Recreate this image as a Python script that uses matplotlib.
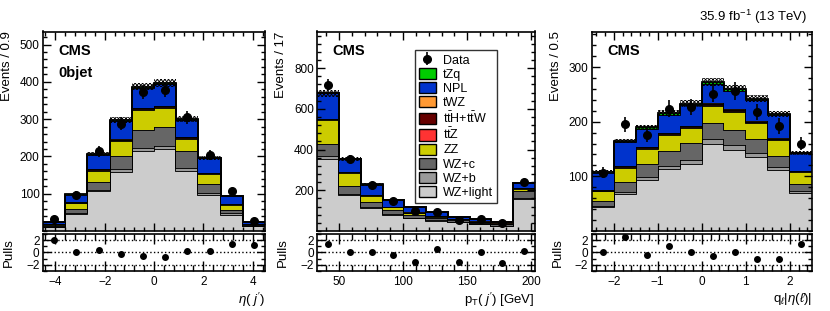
import matplotlib
matplotlib.use('Agg')
import matplotlib.pyplot as plt
import numpy as np
from matplotlib.ticker import MultipleLocator, AutoMinorLocator
from matplotlib.patches import Patch

plt.rcParams['font.family'] = ['Liberation Sans', 'DejaVu Sans']
plt.rcParams['mathtext.fontset'] = 'custom'
plt.rcParams['mathtext.rm'] = 'Liberation Sans'
plt.rcParams['mathtext.it'] = 'Liberation Sans:italic'
plt.rcParams['mathtext.bf'] = 'Liberation Sans:bold'
plt.rcParams['hatch.linewidth'] = 0.6

# stack order, bottom to top
processes = ['WZ+light', 'WZ+b', 'WZ+c', 'ZZ', 'ttZ', 'ttHW', 'tWZ', 'NPL', 'tZq']
colors = {'WZ+light': '#cccccc', 'WZ+b': '#999999', 'WZ+c': '#666666',
          'ZZ': '#cccc00', 'ttZ': '#ff3333', 'ttHW': '#660000',
          'tWZ': '#ff9933', 'NPL': '#0033cc', 'tZq': '#00cc00'}

# --- panel 1: eta(j'), 0bjet
eta_edges = np.linspace(-4.5, 4.5, 11)
eta_light = [11, 46, 106, 158, 214, 219, 161, 97, 44, 13]
eta_wzb = [1, 3, 5, 7, 9, 9, 7, 5, 3, 1]
eta_wzc = [2, 10, 20, 37, 48, 50, 47, 25, 10, 2]
eta_zz = [3, 16, 31, 40, 54, 52, 33, 27, 14, 3]
eta_ttz = [0.5, 1, 2, 2, 3, 3, 2, 1, 1, 0.5]
eta_tthw = [0.3, 0.5, 1, 1, 1.5, 1.5, 1, 0.5, 0.5, 0.3]
eta_twz = [0.2, 0.5, 1, 1, 1, 1, 1, 0.5, 0.5, 0.2]
eta_npl = [5, 20, 39, 50, 54, 58, 47, 39, 20, 5]
eta_tzq = [0.3, 1, 2, 2, 3, 3, 2, 1, 1, 0.3]
eta_data = [31, 97, 214, 288, 372, 378, 305, 204, 106, 28]
eta_pulls = [2.0, 0.0, 0.4, -0.3, -0.55, -0.7, 0.3, 0.3, 1.3, 1.2]

# --- panel 2: pT(j')
pt_edges = np.linspace(33, 203, 11)
pt_light = [356, 176, 115, 79, 63, 50, 42, 34, 26, 155]
pt_wzb = [12, 8, 5, 4, 3, 2, 2, 1, 1, 8]
pt_wzc = [61, 37, 24, 19, 13, 11, 8, 6, 5, 35]
pt_zz = [118, 66, 30, 16, 10, 8, 6, 4, 4, 10]
pt_ttz = [3, 2, 2, 1, 1, 1, 1, 1, 0.5, 3]
pt_tthw = [1.5, 1, 1, 0.5, 0.5, 0.5, 0.5, 0.5, 0.3, 1.5]
pt_twz = [1, 1, 0.5, 0.5, 0.5, 0.3, 0.3, 0.3, 0.2, 1]
pt_npl = [123, 62, 50, 33, 27, 21, 9, 10, 9, 21]
pt_tzq = [2, 1.5, 1, 1, 0.8, 0.6, 0.5, 0.4, 0.3, 2]
pt_data = [719, 356, 224, 147, 98, 95, 56, 58, 37, 239]
pt_pulls = [1.4, 0.0, 0.1, -0.4, -1.6, 0.6, -1.65, 0.0, -1.8, 0.15]

# --- panel 3: q_l |eta(l)|
q_edges = np.linspace(-2.5, 2.5, 11)
q_light = [43, 67, 93, 113, 122, 160, 149, 135, 111, 70]
q_wzb = [3, 4, 5, 6, 7, 8, 8, 7, 6, 4]
q_wzc = [8, 18, 25, 28, 32, 29, 28, 26, 20, 12]
q_zz = [19, 27, 27, 29, 28, 31, 32, 29, 29, 22]
q_ttz = [1, 2, 2, 2, 2, 3, 3, 2, 2, 1]
q_tthw = [0.5, 1, 1, 1, 1, 1.5, 1.5, 1, 1, 0.5]
q_twz = [0.5, 0.5, 0.5, 1, 1, 1, 1, 1, 0.5, 0.5]
q_npl = [32, 43, 34, 33, 37, 35, 34, 38, 43, 32]
q_tzq = [1, 2, 2, 3, 3, 4, 4, 3, 2, 1]
q_data = [107, 195, 176, 224, 227, 251, 256, 218, 192, 160]
q_pulls = [0.0, 2.55, -0.5, 1.0, 0.1, -0.65, 0.1, -1.05, -1.15, 1.3]

rel_unc = 0.025

W, H = 830., 311.


def style_axis(ax, lw=1.2):
    for s in ax.spines.values():
        s.set_linewidth(lw)
    ax.tick_params(which='both', direction='in', top=True, right=True, width=1.0)
    ax.tick_params(which='major', length=5.5, labelsize=8.5, pad=2.5)
    ax.tick_params(which='minor', length=3)


def draw_panel(left, right, edges, comps, data, pulls, ymax, ymajor, xmajor,
               ylabel, xlabel, ylab_x):
    x0 = left / W
    w = (right - left) / W
    ax = fig.add_axes([x0, 1 - 231 / H, w, (231 - 31.5) / H])
    rax = fig.add_axes([x0, 1 - 270.7 / H, w, (270.7 - 233.5) / H])

    base = np.zeros(len(data))
    for name in processes:
        vals = np.asarray(comps[name], float)
        ax.stairs(base + vals, edges, baseline=base, fill=True,
                  color=colors[name], lw=0)
        base = base + vals
        ax.stairs(base, edges, baseline=None, color='black', lw=1.3)
    # stat. uncertainty band on the total prediction
    ax.stairs(base * (1 + rel_unc), edges, baseline=base * (1 - rel_unc),
              fill=True, facecolor='none', edgecolor='black', hatch='xxxxxxxxx', lw=0)

    centers = 0.5 * (edges[1:] + edges[:-1])
    data = np.asarray(data, float)
    eb = ax.errorbar(centers, data, yerr=np.sqrt(data), fmt='o', color='black',
                     ms=5.5, elinewidth=1.2, capsize=0, zorder=5)

    ax.set_xlim(edges[0], edges[-1])
    ax.set_ylim(0, ymax)
    ax.set_yticks(np.arange(ymajor, ymax, ymajor))
    ax.yaxis.set_minor_locator(AutoMinorLocator(5))
    ax.xaxis.set_major_locator(MultipleLocator(xmajor))
    ax.xaxis.set_minor_locator(AutoMinorLocator(5))
    style_axis(ax)
    ax.tick_params(labelbottom=False)
    ax.set_ylabel(ylabel, fontsize=9.5, loc='top')
    ax.yaxis.set_label_coords(ylab_x, 1.0)

    rax.plot(centers, pulls, 'o', color='black', ms=4, zorder=5)
    for yv in (-2, 0, 2):
        rax.axhline(yv, color='black', ls=':', lw=1.0)
    rax.set_xlim(edges[0], edges[-1])
    rax.set_ylim(-3, 3.1)
    rax.set_yticks([-2, 0, 2])
    rax.yaxis.set_minor_locator(MultipleLocator(1))
    rax.xaxis.set_major_locator(MultipleLocator(xmajor))
    rax.xaxis.set_minor_locator(AutoMinorLocator(5))
    style_axis(rax)
    rax.tick_params(axis='x', which='major', length=7, pad=4)
    rax.tick_params(axis='x', which='minor', length=4)
    rax.set_ylabel('Pulls', fontsize=9.5)
    rax.yaxis.set_label_coords(ylab_x + 0.01, 0.5)
    rax.set_xlabel(xlabel, fontsize=9.5, loc='right', labelpad=2)
    return ax, eb


fig = plt.figure(figsize=(8.3, 3.11), dpi=100)

eta_comps = dict(zip(processes, [eta_light, eta_wzb, eta_wzc, eta_zz, eta_ttz,
                                 eta_tthw, eta_twz, eta_npl, eta_tzq]))
pt_comps = dict(zip(processes, [pt_light, pt_wzb, pt_wzc, pt_zz, pt_ttz,
                                pt_tthw, pt_twz, pt_npl, pt_tzq]))
q_comps = dict(zip(processes, [q_light, q_wzb, q_wzc, q_zz, q_ttz,
                               q_tthw, q_twz, q_npl, q_tzq]))

ax1, eb = draw_panel(43, 265, eta_edges, eta_comps, eta_data, eta_pulls, 535, 100, 2,
                     'Events / 0.9', r'$\eta($ $j^{\prime})$', -0.135)
ax2, _ = draw_panel(317.3, 535, pt_edges, pt_comps, pt_data, pt_pulls, 980, 200, 50,
                    'Events / 17', r'p$_{\mathrm{T}}$( $j^{\prime}$) [GeV]', -0.139)
ax3, _ = draw_panel(591.7, 811.7, q_edges, q_comps, q_data, q_pulls, 365, 100, 1,
                    'Events / 0.5', r'q$_{\ell}$|$\eta(\ell)$|', -0.136)

for ax in (ax1, ax2, ax3):
    ax.text(0.07, 0.9, 'CMS', transform=ax.transAxes, fontsize=10.5,
            fontweight='bold', va='center', ha='left')
ax1.text(0.07, 0.79, '0bjet', transform=ax1.transAxes, fontsize=10.5,
         fontweight='bold', va='center', ha='left')

fig.text(806.7 / W, 1 - 16.7 / H, r'35.9 fb$^{-1}$ (13 TeV)', ha='right', va='center',
         fontsize=9.5)

labels = ['Data', 'tZq', 'NPL', 'tWZ', r't$\bar{\mathrm{t}}$H+t$\bar{\mathrm{t}}$W',
          r't$\bar{\mathrm{t}}$Z', 'ZZ', 'WZ+c', 'WZ+b', 'WZ+light']
handles = [eb]
for name in ['tZq', 'NPL', 'tWZ', 'ttHW', 'ttZ', 'ZZ', 'WZ+c', 'WZ+b', 'WZ+light']:
    handles.append(Patch(facecolor=colors[name], edgecolor='black', lw=1.0))
leg = ax2.legend(handles, labels, loc='upper left',
                 bbox_to_anchor=(415 / W, 1 - 50 / H), bbox_transform=fig.transFigure,
                 fontsize=9, frameon=True, fancybox=False, edgecolor='#333333',
                 framealpha=1, borderpad=0.3, labelspacing=0.1, handlelength=1.35,
                 handleheight=1.0, handletextpad=0.6, borderaxespad=0)
leg.get_frame().set_linewidth(1.0)

fig.savefig('out.png', dpi=100)
